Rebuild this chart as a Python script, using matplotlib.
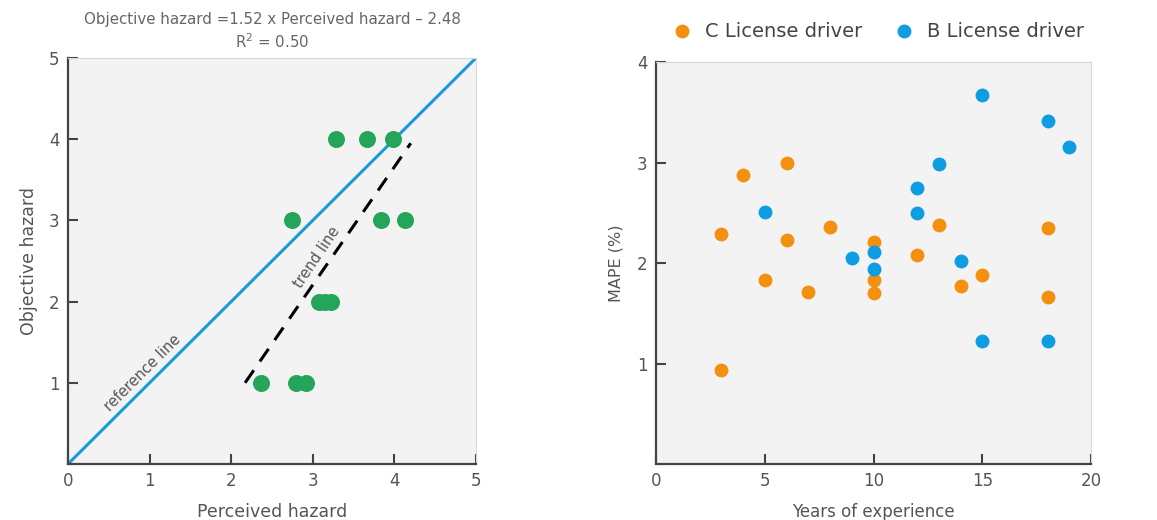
import matplotlib
matplotlib.use('Agg')
import matplotlib.pyplot as plt
import numpy as np

plt.rcParams['font.family'] = ['DejaVu Sans']

# left panel: hazard ratings
perceived = [3.29, 3.66, 3.98, 2.75, 3.83, 4.13, 3.07, 3.15, 3.22, 2.37, 2.80, 2.92]
objective = [4, 4, 4, 3, 3, 3, 2, 2, 2, 1, 1, 1]
ref_x = [0, 5]
ref_y = [0, 5]
trend_x = [2.17, 4.2]
trend_y = [1.0, 3.95]

# right panel: MAPE by experience
c_years = [3, 4, 6, 6, 8, 10, 12, 13, 18, 3, 5, 7, 10, 10, 14, 15, 18]
c_mape = [2.29, 2.88, 3.0, 2.23, 2.36, 2.21, 2.08, 2.38, 2.35, 0.94, 1.83, 1.71, 1.83, 1.70, 1.77, 1.88, 1.66]
b_years = [5, 9, 10, 10, 12, 12, 13, 14, 15, 18, 19, 15, 18]
b_mape = [2.51, 2.05, 2.11, 1.94, 2.75, 2.50, 2.99, 2.02, 3.67, 3.41, 3.15, 1.22, 1.22]

green = '#24a55a'
orange = '#f3900f'
blue = '#0d9de0'
txt = '#555555'

fig = plt.figure(figsize=(11.57, 5.2), dpi=100)
ax1 = fig.add_axes([0.0588, 0.1077, 0.3526, 0.7808])
ax2 = fig.add_axes([0.567, 0.1077, 0.376, 0.773])

def style(ax):
    ax.set_facecolor('#f3f3f3')
    for s in ['left', 'bottom']:
        ax.spines[s].set_color('#444444')
        ax.spines[s].set_linewidth(1.6)
    for s in ['top', 'right']:
        ax.spines[s].set_color('#d8d8d8')
        ax.spines[s].set_linewidth(0.8)
    ax.tick_params(direction='in', length=7, width=1.5, color='#444444',
                   labelsize=12, labelcolor=txt, pad=6)

style(ax1)
ax1.plot(ref_x, ref_y, color='#1a9ad8', lw=2.2, zorder=2)
ax1.plot(trend_x, trend_y, color='black', lw=2.2, ls=(0, (5, 3.5)), zorder=2)
ax1.scatter(perceived, objective, s=150, color=green, zorder=3, linewidths=0)
ax1.set_xlim(0, 5)
ax1.set_ylim(0, 5)
ax1.set_xticks([0, 1, 2, 3, 4, 5])
ax1.set_yticks([1, 2, 3, 4, 5])
ax1.set_xlabel('Perceived hazard', fontsize=12.5, color=txt, labelpad=9)
ax1.set_ylabel('Objective hazard', fontsize=12.5, color=txt, labelpad=8)
ax1.set_title('Objective hazard =1.52 x Perceived hazard \u2013 2.48\nR$^2$ = 0.50',
              fontsize=10.8, color='#666666', pad=7, linespacing=1.35)
ax1.text(0.91, 1.12, 'reference line', rotation=45, fontsize=10.5, color=txt,
         ha='center', va='center', rotation_mode='anchor')
ax1.text(3.05, 2.55, 'trend line', rotation=56, fontsize=10.5, color=txt,
         ha='center', va='center', rotation_mode='anchor')

style(ax2)
ax2.scatter(c_years, c_mape, s=100, color=orange, zorder=3, linewidths=0, label='C License driver')
ax2.scatter(b_years, b_mape, s=100, color=blue, zorder=3, linewidths=0, label='B License driver')
ax2.set_xlim(0, 20)
ax2.set_ylim(0, 4)
ax2.set_xticks([0, 5, 10, 15, 20])
ax2.set_yticks([1, 2, 3, 4])
ax2.set_xlabel('Years of experience', fontsize=12, color=txt, labelpad=9)
ax2.set_ylabel('MAPE (%)', fontsize=11.5, color=txt, labelpad=10)
leg = ax2.legend(loc='lower center', bbox_to_anchor=(0.51, 1.01), ncol=2, frameon=False,
                 fontsize=14, handlelength=1.0, handletextpad=0.68, columnspacing=1.66,
                 markerscale=1.0)
for t in leg.get_texts():
    t.set_color('#444444')

fig.savefig('out.png', dpi=100)
